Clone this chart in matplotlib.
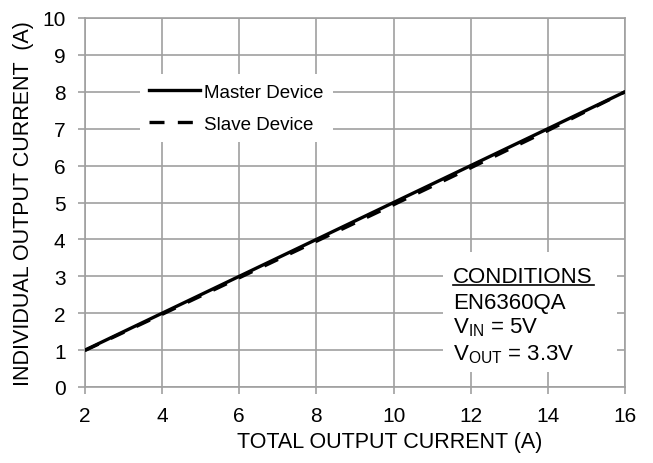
import matplotlib.pyplot as plt
from matplotlib.patches import Rectangle

plt.rcParams['font.family'] = ['Liberation Sans', 'DejaVu Sans']
plt.rcParams['mathtext.fontset'] = 'custom'
plt.rcParams['mathtext.rm'] = 'Liberation Sans'

total_current = [2, 4, 6, 8, 10, 12, 14, 16]
master_current = [1.0, 2.0, 3.0, 4.0, 5.0, 6.0, 7.0, 8.0]
slave_current = [0.99, 1.97, 2.96, 3.95, 4.94, 5.94, 6.95, 8.0]

x_ticks = [2, 4, 6, 8, 10, 12, 14, 16]
y_ticks = list(range(0, 11))
conditions = ['CONDITIONS', 'EN6360QA', '$\\mathregular{V_{IN}}$ = 5V',
              '$\\mathregular{V_{OUT}}$ = 3.3V']

fig = plt.figure(figsize=(6.53, 4.64), dpi=100)
ax = fig.add_axes([85 / 653, 1 - 388 / 464, 540 / 653, 369 / 464])

grid_color = '#a0a0a0'
ax.plot(total_current, slave_current, color='black', lw=2.4, ls=(0, (4.5, 4)),
        label='Slave Device', zorder=3)
ax.plot(total_current, master_current, color='black', lw=2.4,
        label='Master Device', zorder=4)

ax.set_xlim(2, 16)
ax.set_ylim(0, 10)
ax.set_xticks(x_ticks)
ax.set_yticks(y_ticks)
ax.grid(True, color=grid_color, lw=1.2)
for s in ax.spines.values():
    s.set_color(grid_color)
    s.set_linewidth(1.2)
ax.tick_params(axis='both', color=grid_color, width=1.2, length=5,
               labelsize=15, pad=9)

ax.set_xlabel('TOTAL OUTPUT CURRENT (A)', fontsize=15.5, labelpad=6)
ax.xaxis.set_label_coords(0.565, -0.118)
ax.set_ylabel('INDIVIDUAL OUTPUT CURRENT  (A)', fontsize=15.5, labelpad=6)

handles, labels = ax.get_legend_handles_labels()
leg = ax.legend(handles[::-1], labels[::-1], loc='upper left',
                bbox_to_anchor=(0.102, 0.848), borderaxespad=0,
                frameon=True, fontsize=13.5, handlelength=2.7,
                handletextpad=0.2, labelspacing=0.8, borderpad=0.5,
                fancybox=False)
leg.get_frame().set_edgecolor('none')
leg.get_frame().set_facecolor('white')
leg.get_frame().set_alpha(1)

# white box behind the conditions text
ax.add_patch(Rectangle((0.663, 0.041), 0.322, 0.325, transform=ax.transAxes,
                       facecolor='white', edgecolor='none', zorder=2.5))
baselines = [0.2846, 0.214, 0.149, 0.0759]
for txt, yb in zip(conditions, baselines):
    ax.text(0.681, yb, txt, transform=ax.transAxes, fontsize=16,
            va='baseline', ha='left', zorder=5)
ax.plot([0.681, 0.943], [0.277, 0.277], transform=ax.transAxes,
        color='black', lw=1.2, zorder=6)

fig.savefig('out.png', dpi=100)
